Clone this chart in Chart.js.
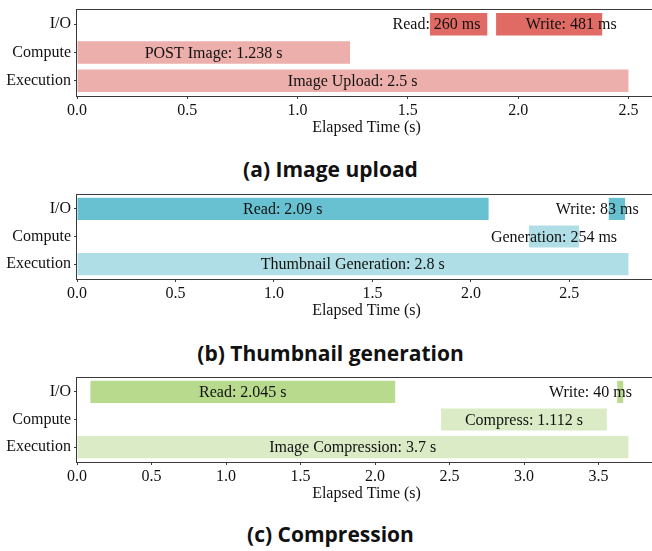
<!DOCTYPE html>
<html>
<head>
<meta charset="utf-8">
<script src="https://cdn.jsdelivr.net/npm/chart.js@4"></script>
<style>
  html, body { margin: 0; padding: 0; background: #fff; overflow: hidden; width: 652px; height: 551px; }
  .panel { position: absolute; left: 0; }
  .cap { position: absolute; left: 0; width: 661px; text-align: center; font-family: "Open Sans", Lato, sans-serif; font-weight: bold; font-size: 21px; color: #111; line-height: 24px; white-space: nowrap; }
</style>
</head>
<body>
<canvas id="c1" class="panel" width="656" height="136" style="top:0px"></canvas>
<canvas id="c2" class="panel" width="656" height="134" style="top:185px"></canvas>
<canvas id="c3" class="panel" width="656" height="134" style="top:368px"></canvas>
<div class="cap" style="top:157px">(a) Image upload</div>
<div class="cap" style="top:341px">(b) Thumbnail generation</div>
<div class="cap" style="top:522px">(c) Compression</div>
<script>
// rows, bottom to top
const rowLabels = ['Execution', 'Compute', 'I/O'];
const axisTitle = 'Elapsed Time (s)';

// (a) Image upload
const uploadRows  = ['Execution', 'Compute', 'I/O', 'I/O'];
const uploadStart = [0, 0, 1.6, 1.9];
const uploadEnd   = [2.5, 1.238, 1.86, 2.381];
const uploadText  = ['Image Upload: 2.5 s', 'POST Image: 1.238 s', 'Read: 260 ms', 'Write: 481 ms'];
const uploadShift = [0, 0, -0.1, 0.1];

// (b) Thumbnail generation
const thumbRows  = ['Execution', 'Compute', 'I/O', 'I/O'];
const thumbStart = [0, 2.295, 0, 2.70];
const thumbEnd   = [2.8, 2.549, 2.09, 2.783];
const thumbText  = ['Thumbnail Generation: 2.8 s', 'Generation: 254 ms', 'Read: 2.09 s', 'Write: 83 ms'];
const thumbShift = [0, 0, 0, -0.1];

// (c) Compression
const compRows  = ['Execution', 'Compute', 'I/O', 'I/O'];
const compStart = [0, 2.443, 0.09, 3.625];
const compEnd   = [3.7, 3.555, 2.135, 3.665];
const compText  = ['Image Compression: 3.7 s', 'Compress: 1.112 s', 'Read: 2.045 s', 'Write: 40 ms'];
const compShift = [0, 0, 0, -0.2];

Chart.defaults.font.family = '"Liberation Serif", "Times New Roman", serif';
Chart.defaults.font.size = 16;
Chart.defaults.color = '#111';
Chart.defaults.animation = false;

const frame = {
  id: 'frame',
  afterDraw(chart) {
    const a = chart.chartArea, ctx = chart.ctx;
    ctx.save();
    ctx.strokeStyle = '#3a3a3a';
    ctx.lineWidth = 1;
    ctx.strokeRect(Math.round(a.left) - 0.5, Math.round(a.top) + 0.5, Math.round(a.right - a.left) + 1, Math.round(a.bottom - a.top));
    ctx.restore();
  }
};

const barLabels = {
  id: 'barLabels',
  afterDatasetsDraw(chart, args, opts) {
    const ctx = chart.ctx, xs = chart.scales.x, ys = chart.scales.y;
    const ds = chart.data.datasets[0];
    ctx.save();
    ctx.font = '16px "Liberation Serif", serif';
    ctx.fillStyle = '#111';
    ctx.textAlign = 'center';
    ctx.textBaseline = 'middle';
    ds.data.forEach((d, i) => {
      const x = xs.getPixelForValue((d.x[0] + d.x[1]) / 2 + opts.shift[i]);
      const y = ys.getPixelForValue(d.y);
      ctx.fillText(opts.text[i], x, y + 1);
    });
    ctx.restore();
  }
};

function makePanel(id, rows, starts, ends, texts, shifts, dark, light) {
  const data = rows.map((r, i) => ({ x: [starts[i], ends[i]], y: rowLabels.indexOf(r) }));
  const colors = rows.map(r => r === 'I/O' ? dark : light);
  const xMax = Math.max(...ends) * 1.05;
  new Chart(document.getElementById(id), {
    type: 'bar',
    data: { datasets: [{ data, backgroundColor: colors, borderWidth: 0, barPercentage: 0.8, categoryPercentage: 1.0 }] },
    options: {
      indexAxis: 'y',
      responsive: false,
      animation: false,
      layout: { padding: { top: 9, right: 0, bottom: 0, left: 0 } },
      plugins: {
        legend: { display: false },
        tooltip: { enabled: false },
        barLabels: { text: texts, shift: shifts }
      },
      scales: {
        x: {
          type: 'linear', min: 0, max: xMax, offset: false,
          grid: { display: true, drawOnChartArea: false, drawTicks: true, tickLength: 3, color: '#3a3a3a', offset: false },
          border: { display: false },
          afterBuildTicks(s) {
            const t = [];
            for (let v = 0; v <= xMax + 1e-9; v += 0.5) t.push({ value: Math.round(v * 10) / 10 });
            s.ticks = t;
          },
          ticks: { padding: 4, maxRotation: 0, autoSkip: false, font: { size: 16, lineHeight: 1.0 }, callback: v => Number(v).toFixed(1) },
          title: { display: true, text: axisTitle, font: { size: 16, lineHeight: 1.0 }, padding: { top: 5, bottom: 0 } },
          afterFit(s) { s.height = 40; }
        },
        y: {
          type: 'linear', min: -0.54, max: 2.54, offset: false,
          grid: { display: true, drawOnChartArea: false, drawTicks: true, tickLength: 3, color: '#3a3a3a', offset: false },
          border: { display: false },
          afterBuildTicks(s) { s.ticks = [0, 1, 2].map(v => ({ value: v })); },
          ticks: { padding: 3, autoSkip: false, font: { size: 16 }, callback: v => rowLabels[v] },
          afterFit(s) { s.width = 77; s.paddingTop = 0; s.paddingBottom = 0; }
        }
      }
    },
    plugins: [barLabels, frame]
  });
}

makePanel('c1', uploadRows, uploadStart, uploadEnd, uploadText, uploadShift, '#e06b64', '#ecafab');
makePanel('c2', thumbRows, thumbStart, thumbEnd, thumbText, thumbShift, '#67c1d1', '#b0dee6');
makePanel('c3', compRows, compStart, compEnd, compText, compShift, '#b8da8c', '#daebc6');
</script>
</body>
</html>
